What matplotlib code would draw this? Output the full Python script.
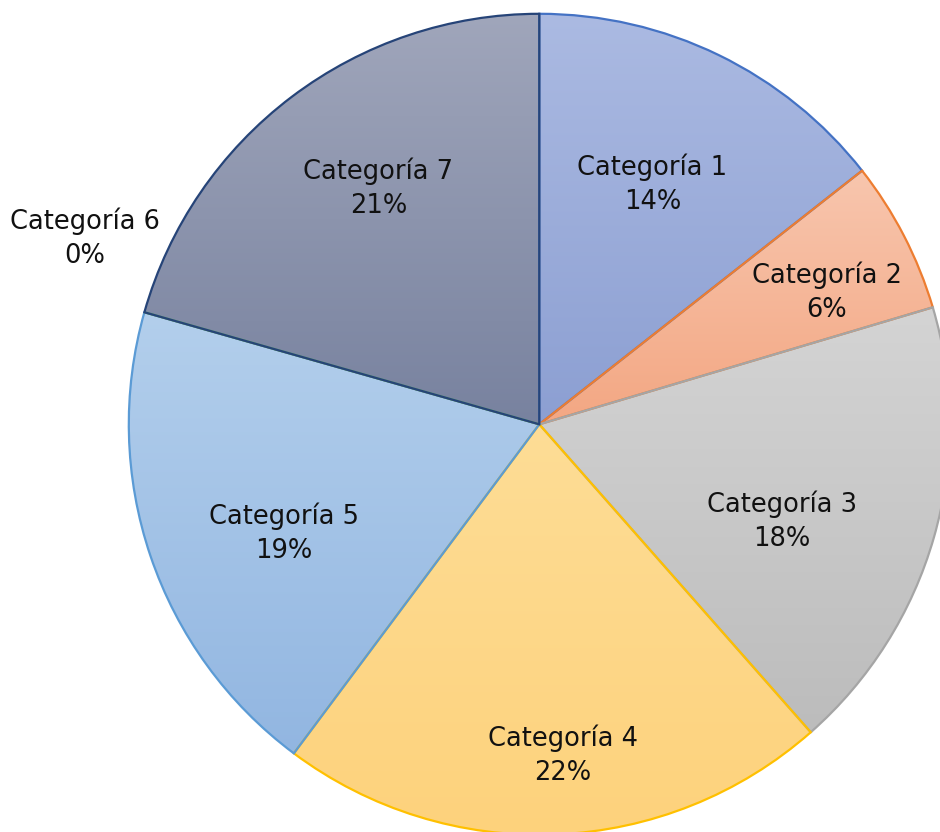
import numpy as np
import matplotlib
matplotlib.use('Agg')
import matplotlib.pyplot as plt
from matplotlib.colors import LinearSegmentedColormap

plt.rcParams['font.family'] = ['DejaVu Sans']

categories = ['Categoría 1', 'Categoría 2', 'Categoría 3', 'Categoría 4',
              'Categoría 5', 'Categoría 6', 'Categoría 7']
values = [14.4, 6.0, 18.1, 21.7, 19.2, 0, 20.6]

# gradient fill, light at top, darker at bottom (office style)
top_colors = ['#abbae2', '#f8c6ae', '#d4d4d4', '#fedd96', '#b3cfec', '#a9d18e', '#a0a6bb']
bottom_colors = ['#8c9fd2', '#f3a783', '#bcbcbc', '#fdd27c', '#92b6e1', '#8cc168', '#78829f']
edge_colors = ['#4472c4', '#ed7d31', '#a5a5a5', '#ffc000', '#5b9bd5', '#70ad47', '#264478']
# label placement: fraction of radius, angle shift from slice middle (deg)
label_dist = [0.646, 0.77, 0.637, 0.808, 0.676, 1.197, 0.696]
label_shift = [0.7, -2.7, -5.7, 1.7, 4.4, -6.4, -2.8]

fig = plt.figure(figsize=(9.4, 8.32), dpi=100)
ax = fig.add_axes([0, 0, 1, 1])

cx, cy, r = 539.3, 832 - 424.3, 410.5
wedges, _ = ax.pie(values, center=(cx, cy), radius=r, startangle=90,
                   counterclock=False, colors=top_colors,
                   wedgeprops=dict(linewidth=1.6))

grad = np.linspace(0, 1, 256).reshape(-1, 1)
for w, v, c_top, c_bot, ec in zip(wedges, values, top_colors, bottom_colors, edge_colors):
    w.set_edgecolor(ec)
    w.set_zorder(3)
    if v == 0:
        continue
    ext = w.get_path().get_extents()
    cmap = LinearSegmentedColormap.from_list('g', [c_bot, c_top])
    im = ax.imshow(grad, extent=(ext.x0, ext.x1, ext.y0, ext.y1), origin='lower',
                   cmap=cmap, aspect='auto', zorder=2, interpolation='bilinear')
    im.set_clip_path(w)
    w.set_facecolor('none')

total = sum(values)
for w, cat, v, d, s in zip(wedges, categories, values, label_dist, label_shift):
    ang = np.deg2rad((w.theta1 + w.theta2) / 2 + s)
    x = cx + d * r * np.cos(ang)
    y = cy + d * r * np.sin(ang)
    ax.text(x, y, f'{cat}\n{int(100 * v / total + 0.5)}%', ha='center', va='center',
            fontsize=18.5, linespacing=1.4, color='#111111', zorder=5)

ax.set_xlim(0, 940)
ax.set_ylim(0, 832)
ax.set_aspect('equal')
ax.axis('off')

fig.savefig('out.png', dpi=100, facecolor='white')
